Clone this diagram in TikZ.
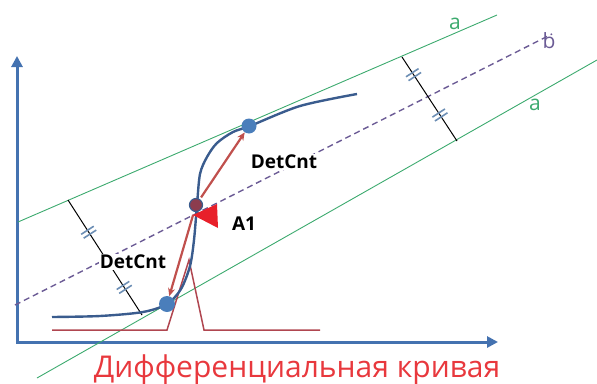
\documentclass[tikz,border=0pt]{standalone}
\usepackage{fontspec}
\setsansfont{Open Sans}
\usepackage{tikz}
\usetikzlibrary{arrows.meta, calc, decorations.markings}
\definecolor{myaxis}{RGB}{68,114,176}
\definecolor{mycurve}{RGB}{58,92,142}
\definecolor{mydot}{RGB}{74,126,187}
\definecolor{mybrown}{RGB}{140,60,78}
\definecolor{myarrow}{RGB}{192,80,77}
\definecolor{mypeak}{RGB}{176,70,80}
\definecolor{mygreen}{RGB}{60,170,110}
\definecolor{mypurple}{RGB}{107,91,149}
\definecolor{mytick}{RGB}{109,143,181}
\definecolor{mytri}{RGB}{232,32,42}
\definecolor{mytitle}{RGB}{232,56,61}
\newcommand{\eqmark}{\draw[tickmark] (-2.3pt,-7.5pt) -- (-2.3pt,7.5pt) (2.3pt,-7.5pt) -- (2.3pt,7.5pt);}
\tikzset{
  axisline/.style={line width=3pt, color=myaxis},
  guide/.style={line width=0.9pt, color=mygreen},
  midline/.style={line width=1.4pt, color=mypurple, dash pattern=on 6pt off 4pt},
  tickmark/.style={line width=1.6pt, color=mytick},
  measure/.style 2 args={line width=1pt, color=black,
    postaction={decorate, decoration={markings,
      mark=at position #1 with {\eqmark},
      mark=at position #2 with {\eqmark}}}},
  peak/.style={line width=1.5pt, color=mypeak},
  curve/.style={line width=2.4pt, color=mycurve},
  redarrow/.style={-{Stealth[length=8pt, width=7pt]}, line width=2.2pt, color=myarrow}
}

\begin{document}
\begin{tikzpicture}[x=1pt, y=-1pt,
  dot/.style={circle, fill=mydot, inner sep=0pt, minimum size=15pt},
  midpt/.style={circle, draw=mycurve, fill=mybrown, line width=1.2pt, inner sep=0pt, minimum size=13pt},
  lbl/.style={font=\sffamily\bfseries\fontsize{19}{22}\selectfont, fill=white, inner sep=1pt},
  glabel/.style={font=\sffamily\fontsize{21}{24}\selectfont, color=mygreen},
  plabel/.style={font=\sffamily\fontsize{21}{24}\selectfont, color=mypurple}]

  \useasboundingbox (0,0) rectangle (597,383);

  % Axes
  \coordinate (yend) at (17,56);
  \coordinate (xend) at (498,342);
  \draw[axisline, {Triangle[length=11pt, width=11pt]}-{Triangle[length=11pt, width=11pt]}] (yend) |- (xend);

  % Band lines a, b
  \coordinate (aUp1) at (18,222);
  \coordinate (aUp2) at (497,15);
  \coordinate (aLo1) at (37,378);
  \coordinate (aLo2) at (597,60);
  \coordinate (b1) at (15,305);
  \coordinate (b2) at (552,34);
  \draw[guide] (aUp1) -- (aUp2);
  \draw[guide] (aLo1) -- (aLo2);
  \draw[midline] (b1) -- (b2);

  % Equal distances
  \coordinate (mL1) at (68,200);
  \coordinate (mL2) at (142,315);
  \coordinate (mR1) at (402,57);
  \coordinate (mR2) at (457,141);
  \draw[measure={0.28}{0.76}] (mL1) -- (mL2);
  \draw[measure={0.21}{0.69}] (mR1) -- (mR2);

  % Differential peak
  \coordinate (pk0) at (52,330);
  \coordinate (pk1) at (167,330);
  \coordinate (pk2) at (189,260);
  \coordinate (pk3) at (204,330);
  \coordinate (pk4) at (320,330);
  \draw[peak] (pk0) -- (pk1) -- (pk2) -- (pk3) -- (pk4);

  % Curve
  \draw[curve] plot[smooth, tension=0.5] coordinates {(52,317) (100,316) (143,312) (167,304) (181,289) (190,266) (194,240) (197,205) (200,174) (207,157) (217,143) (233,132) (250,126) (300,106) (357,94)};

  % Points
  \node[dot] (ptTop) at (249,126) {};
  \node[dot, minimum size=16pt] (ptBot) at (167,304) {};
  \node[midpt] (ptA1) at (196,205) {};

  % Arrows
  \draw[redarrow, shorten <=2pt] (ptA1) -- (ptTop);
  \draw[redarrow, shorten <=3pt] (ptA1) -- (ptBot);

  % Marker A1
  \fill[mytri] (193,215) -- (217,204) -- (218,228) -- cycle;

  % Labels
  \node[lbl] (cntTop) at (284,162) {DetCnt};
  \node[lbl] (cntLeft) at (133,262) {DetCnt};
  \node[lbl, fill=none] (labA1) at (244,224) {A1};
  \node[glabel] (labUp) at (455,24) {a};
  \node[glabel] (labLo) at (535,105) {a};
  \node[plabel] (labB) at (549,41) {b};
  \node[anchor=base, font=\sffamily\fontsize{30}{34}\selectfont, color=mytitle] (title) at (297,377) {Дифференциальная кривая};

\end{tikzpicture}
\end{document}
